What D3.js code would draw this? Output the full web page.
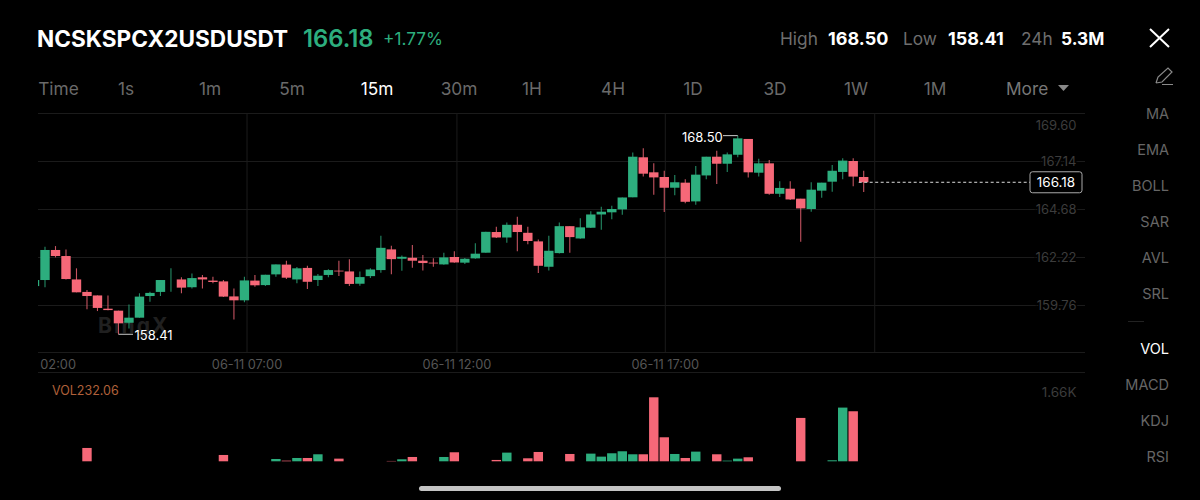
<!DOCTYPE html>
<html>
<head>
<meta charset="utf-8">
<style>
	html, body { margin: 0; background: #000; }
	svg { display: block; font-family: Inter, Roboto, sans-serif; }
	.domain { display: none; }
	.grid line { stroke: #1b1b1b; }
</style>
</head>
<body>
<svg id="chart" width="1200" height="500"></svg>
<script src="https://cdn.jsdelivr.net/npm/d3@7"></script>
<script>
	// candles, oldest first (15m, first one is cut off by the left edge)
	var opens = [
		160.73,161.04,162.58,162.27,161.07,160.43,160.25,159.57,159.47,158.85,
		159.11,160.22,160.43,161.04,161.07,160.67,161.18,161.01,160.97,160.20,
		160.00,161.01,160.78,161.33,161.83,161.07,161.66,161.04,161.30,161.52,
		161.48,160.85,161.24,161.55,162.61,162.13,162.18,162.03,161.93,161.84,
		162.22,161.93,162.15,162.44,163.50,163.22,163.87,163.46,163.02,161.72,
		162.42,163.80,163.17,163.72,164.40,164.51,164.66,165.28,167.33,166.56,
		166.32,165.77,166.03,165.07,166.40,167.36,167.00,167.46,168.27,166.54,
		167.02,165.46,165.72,165.21,164.68,165.62,166.08,166.58,167.14,166.32
	];
	var closes = [
		161.04,162.58,162.27,161.09,160.41,160.22,159.61,159.50,158.82,159.11,
		160.19,160.38,161.04,161.04,160.65,161.14,161.07,160.94,160.19,160.00,
		161.02,160.77,161.31,161.84,161.16,161.64,160.95,161.26,161.55,161.48,
		160.84,161.19,161.58,162.69,162.11,162.23,162.03,161.91,161.89,162.20,
		161.94,162.13,162.39,163.51,163.22,163.87,163.50,163.04,161.77,162.54,
		163.80,163.24,163.74,164.40,164.54,164.68,165.27,167.36,166.49,166.30,
		165.77,166.05,165.05,166.44,167.36,167.00,167.48,168.30,166.56,167.02,
		165.46,165.76,165.17,164.71,165.67,166.03,166.64,167.16,166.34,166.05
	];
	var highs = [
		161.04,162.75,162.78,162.61,161.64,160.53,160.25,160.25,159.47,159.79,
		160.36,160.44,161.04,161.64,161.18,161.38,161.30,161.21,161.04,160.60,
		161.21,161.30,161.31,161.84,162.03,161.71,161.77,161.35,161.59,162.03,
		162.10,161.48,161.64,163.31,162.80,162.30,162.83,162.32,162.15,162.44,
		162.51,162.17,162.92,163.51,163.77,163.99,164.28,163.77,163.12,163.31,
		163.99,163.80,164.20,164.57,164.80,164.85,165.27,167.57,167.79,167.02,
		166.64,166.42,166.20,166.88,167.36,167.67,167.58,168.44,168.27,167.26,
		167.19,166.10,166.10,165.21,166.05,166.03,166.93,167.28,167.28,166.64
	];
	var lows = [
		160.73,160.67,162.20,161.07,160.41,159.54,159.45,159.49,158.26,158.56,
		159.11,159.93,160.22,160.44,160.36,160.61,160.61,160.87,160.17,159.02,
		159.90,160.70,160.73,161.21,161.09,160.87,160.58,160.73,161.18,161.25,
		160.73,160.75,161.14,161.41,161.33,161.52,161.67,161.53,161.72,161.82,
		161.93,161.86,162.13,162.44,163.19,162.95,162.52,162.87,161.40,161.53,
		162.40,162.44,163.16,163.70,163.62,164.15,164.39,165.28,166.34,165.41,
		164.53,165.38,164.97,164.90,166.20,165.96,166.58,167.33,166.30,166.34,
		165.41,165.29,165.14,163.00,164.54,165.26,165.57,166.20,165.84,165.55
	];
	var volumes = [
		0,0,0,0,0,346,0,0,0,0,
		0,0,0,0,0,0,0,0,164,0,
		0,0,0,60,17,86,86,182,0,69,
		0,0,0,0,9,52,112,0,0,112,
		234,0,0,0,35,225,0,78,242,0,
		0,190,0,199,121,208,260,182,182,1660,
		623,190,86,251,0,182,17,69,104,0,
		0,0,0,1125,0,0,26,1393,1298,0
	];

	var priceTicks = [169.60, 167.14, 164.68, 162.22, 159.76];
	var gridCandles = [20.2, 40.2, 60.05, 80];
	var timeCandles = [0.5, 20.2, 40.2, 60.05];
	var timeLabels = ["02:00", "06-11 07:00", "06-11 12:00", "06-11 17:00"];
	var periods = ["Time", "1s", "1m", "5m", "15m", "30m", "1H", "4H", "1D", "3D", "1W", "1M"];
	var periodX = [58.5, 126, 210, 292, 377, 459, 532, 613, 693, 775, 856, 935];
	var indicators = ["MA", "EMA", "BOLL", "SAR", "AVL", "SRL", "VOL", "MACD", "KDJ", "RSI"];
	var indicatorY = [113.5, 149.5, 185.5, 221.5, 257.5, 293.5, 348.5, 384.5, 420.5, 456.5];

	var green = "#2dae7e", red = "#f66878";
	var svg = d3.select("#chart");
	var left = 38, right = 1085;

	var x = d3.scaleLinear().domain([0, 79]).range([34.5, 863.7]);
	var y = d3.scaleLinear().domain([159.76, 169.60]).range([305, 113]);
	var yVol = d3.scaleLinear().domain([0, 1660]).range([461.3, 397.3]);

	function color(i) { return closes[i] >= opens[i] ? green : red; }

	function label(px, py, txt, size, fill, anchor, weight) {
		return svg.append("text")
			.attr("x", px).attr("y", py)
			.attr("dominant-baseline", "central")
			.attr("text-anchor", anchor || "start")
			.attr("font-size", size)
			.attr("font-weight", weight || 400)
			.attr("fill", fill)
			.text(txt);
	}

	// header
	label(37, 38, "NCSKSPCX2USDUSDT", 22.6, "#fff", "start", 700);
	label(303, 38, "166.18", 23.8, green, "start", 600);
	label(383, 38, "+1.77%", 17.3, green);
	label(780, 38, "High", 17.3, "#6e6e6e");
	label(828, 38, "168.50", 18, "#fff", "start", 700);
	label(903, 38, "Low", 17.3, "#6e6e6e");
	label(948, 38, "158.41", 18, "#fff", "start", 700);
	label(1021, 38, "24h", 17.3, "#6e6e6e");
	label(1061, 38, "5.3M", 17.3, "#fff", "start", 700);

	// close button and pencil
	svg.append("path").attr("d", "M1150 29L1169 47M1169 29L1150 47")
		.attr("stroke", "#fff").attr("stroke-width", 2).attr("fill", "none");
	svg.append("path").attr("d", "M1156 83L1158 77L1168 68L1172 72L1162 82L1156 83M1162 84.5H1173")
		.attr("stroke", "#8a8a8a").attr("stroke-width", 1.2).attr("fill", "none");

	// period tabs
	periods.forEach(function(p, i) {
		label(periodX[i], 88, p, 17.3, p == "15m" ? "#fff" : "#6a6a6a", "middle");
	});
	label(1006, 88, "More", 17.3, "#777");
	svg.append("path").attr("d", "M1058 85H1069L1063.5 91Z").attr("fill", "#888");

	// indicator list
	indicators.forEach(function(n, i) {
		label(1169, indicatorY[i], n, 14.5, n == "VOL" ? "#fff" : "#666", "end");
	});
	svg.append("line").attr("x1", 1128).attr("x2", 1144).attr("y1", 321.5).attr("y2", 321.5).attr("stroke", "#222");

	// grid, top label hangs below its line
	svg.append("g").attr("class", "grid")
		.attr("transform", "translate(" + right + ",0)")
		.call(d3.axisLeft(y).tickValues(priceTicks).tickSize(right - left).tickFormat(d3.format(".2f")))
		.selectAll("text")
		.attr("x", -8.5)
		.attr("y", function(d, i) { return i == 0 ? 12.5 : 0; })
		.attr("text-anchor", "end")
		.attr("font-size", 13)
		.attr("font-family", "Inter, Roboto, sans-serif")
		.attr("fill", "#3c3c3c")
		.attr("stroke", "#000")
		.attr("stroke-width", 3)
		.attr("paint-order", "stroke");

	svg.append("g").attr("class", "grid")
		.attr("transform", "translate(0,352.5)")
		.call(d3.axisBottom(x).tickValues(gridCandles).tickSize(-239.5).tickFormat(""));

	[352.5, 372.5].forEach(function(ly) {
		svg.append("line").attr("x1", left).attr("x2", right).attr("y1", ly).attr("y2", ly).attr("stroke", "#1b1b1b");
	});

	// time labels
	var timeAxis = svg.append("g")
		.attr("transform", "translate(0,357)")
		.call(d3.axisBottom(x).tickValues(timeCandles).tickSize(0).tickFormat(function(d, i) { return timeLabels[i]; }));
	timeAxis.selectAll("text")
		.attr("font-size", 12.8)
		.attr("font-family", "Inter, Roboto, sans-serif")
		.attr("fill", "#555")
		.attr("text-anchor", function(d, i) { return i == 0 ? "start" : "middle"; });

	// watermark sits under the candles
	label(98, 325, "BingX", 21, "#202020", "start", 700).attr("letter-spacing", 2);

	svg.append("clipPath").attr("id", "plot").append("rect")
		.attr("x", left).attr("y", 100).attr("width", right - left).attr("height", 370);

	var idx = d3.range(opens.length);
	var candles = svg.append("g").attr("clip-path", "url(#plot)");

	candles.selectAll("line.wick")
		.data(idx)
		.enter().append("line")
		.attr("class", "wick")
		.attr("x1", function(i) { return x(i); })
		.attr("x2", function(i) { return x(i); })
		.attr("y1", function(i) { return y(highs[i]); })
		.attr("y2", function(i) { return y(lows[i]); })
		.attr("stroke", color)
		.attr("stroke-opacity", 0.8)
		.attr("stroke-width", 1.1);

	candles.selectAll("rect.body")
		.data(idx)
		.enter().append("rect")
		.attr("class", "body")
		.attr("x", function(i) { return x(i) - 4.7; })
		.attr("width", 9.4)
		.attr("y", function(i) { return y(Math.max(opens[i], closes[i])); })
		.attr("height", function(i) { return Math.abs(y(opens[i]) - y(closes[i])); })
		.attr("fill", color);

	// volume
	candles.selectAll("rect.vol")
		.data(idx.filter(function(i) { return volumes[i] > 0; }))
		.enter().append("rect")
		.attr("class", "vol")
		.attr("x", function(i) { return x(i) - 4.7; })
		.attr("width", 9.4)
		.attr("y", function(i) { return yVol(volumes[i]); })
		.attr("height", function(i) { return yVol(0) - yVol(volumes[i]); })
		.attr("fill", color);

	label(52, 390, "VOL232.06", 12.5, "#b0603a");
	label(1076.5, 392, "1.66K", 13.5, "#3c3c3c", "end");

	// high / low markers
	var iHigh = d3.maxIndex(highs), iLow = d3.minIndex(lows);
	svg.append("line").attr("x1", 723).attr("x2", x(iHigh)).attr("y1", y(highs[iHigh])).attr("y2", y(highs[iHigh])).attr("stroke", "#ccc");
	label(682, y(highs[iHigh]) + 1.5, "168.50", 13, "#fff");
	svg.append("line").attr("x1", x(iLow)).attr("x2", 133).attr("y1", y(lows[iLow])).attr("y2", y(lows[iLow])).attr("stroke", "#ccc");
	label(134.5, y(lows[iLow]) + 1, "158.41", 13, "#fff");

	// last price line and box
	var lastY = y(closes[closes.length - 1]);
	svg.append("line").attr("x1", x(79) - 5).attr("x2", 1030).attr("y1", lastY).attr("y2", lastY)
		.attr("stroke", "#ddd").attr("stroke-dasharray", "3,2.5");
	svg.append("rect").attr("x", 1030).attr("y", lastY - 10.5).attr("width", 52).attr("height", 21).attr("rx", 2.5)
		.attr("fill", "#000").attr("stroke", "#aaa");
	label(1056, lastY, "166.18", 13.5, "#fff", "middle");

	// home indicator
	svg.append("rect").attr("x", 419).attr("y", 486).attr("width", 362).attr("height", 5).attr("rx", 2.5).attr("fill", "#c4c4c4");
</script>
</body>
</html>
